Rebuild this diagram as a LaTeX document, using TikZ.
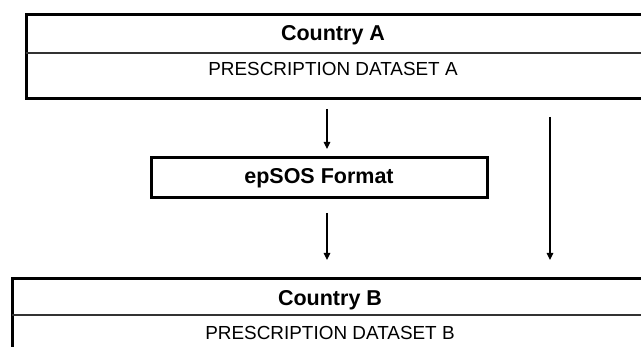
\documentclass[tikz,border=0pt]{standalone}
\usepackage{fontspec}
\setmainfont{Liberation Sans}
\usetikzlibrary{arrows.meta}
\begin{document}
\begin{tikzpicture}[x=1pt,y=-1pt,
  bigbox/.style={draw, line width=3pt, rectangle, anchor=north west, inner sep=0pt, outer sep=0pt},
  divider/.style={line width=1.4pt, draw=black!80},
  title/.style={font=\fontsize{21.5}{24}\selectfont\bfseries, anchor=base, inner sep=0pt},
  sub/.style={font=\fontsize{18.9}{22}\selectfont, anchor=base, inner sep=0pt},
  flow/.style={line width=1.1pt, -{Triangle[length=7pt,width=6.5pt]}}]
\useasboundingbox (0,0) rectangle (641,347);
\clip (0,0) rectangle (641,347);
% Country A box
\node[bigbox, minimum width=640pt, minimum height=84pt] (boxA) at (26,15) {};
\draw[divider] (26,53) -- (670,53);
\node[title] (titleA) at (333,40.5) {Country A};
\node[sub] (dataA) at (333,75.5) {PRESCRIPTION DATASET A};
% epSOS box
\node[bigbox, minimum width=336pt, minimum height=40pt] (eps) at (151,158) {};
\node[title] (epsT) at (319,184) {epSOS Format};
% Country B box
\node[bigbox, minimum width=650pt, minimum height=90pt] (boxB) at (12,279) {};
\draw[divider] (12,315) -- (670,315);
\node[title] (titleB) at (330,306) {Country B};
\node[sub] (dataB) at (330,339.5) {PRESCRIPTION DATASET B};
% connectors
\coordinate (a1s) at (327,109);
\coordinate (a1e) at (327,149);
\coordinate (a2s) at (327,213);
\coordinate (a2e) at (327,260);
\coordinate (a3s) at (550,117);
\coordinate (a3e) at (550,260);
\draw[flow] (a1s) -- (a1e);
\draw[flow] (a2s) -- (a2e);
\draw[flow] (a3s) -- (a3e);
\end{tikzpicture}
\end{document}
